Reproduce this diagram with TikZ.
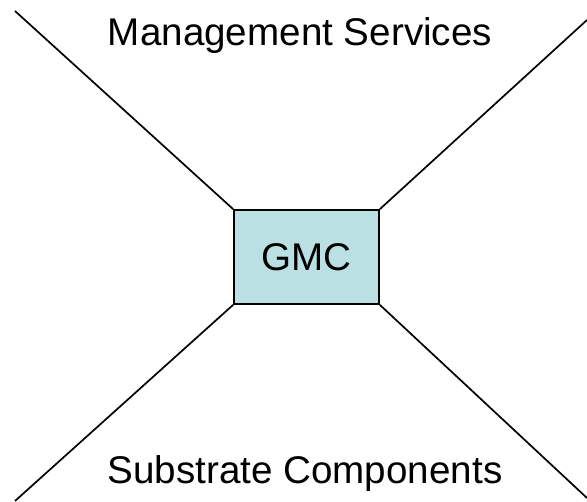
\documentclass[tikz,border=0pt]{standalone}
\usepackage{fontspec}
\setmainfont{Liberation Sans}
\definecolor{boxfill}{HTML}{BBE0E3}
\begin{document}
\begin{tikzpicture}[x=1pt,y=-1pt,
  conn/.style={draw=black,line width=1.7pt},
  gmcbox/.style={draw=black,line width=1.7pt,fill=boxfill,minimum width=145pt,minimum height=94pt,inner sep=0pt,font=\fontsize{38.6}{39}\selectfont},
  lbl/.style={inner sep=0pt,anchor=base,font=\fontsize{38.6}{39}\selectfont}]
\useasboundingbox (0,0) rectangle (587,502);
\node[gmcbox] (gmc) at (306.5,257) {GMC};
\coordinate (tl) at (15,11);
\coordinate (tr) at (587,20);
\coordinate (bl) at (15,501);
\coordinate (br) at (587,498);
\draw[conn] (tl) -- (gmc.north west);
\draw[conn] (tr) -- (gmc.north east);
\draw[conn] (bl) -- (gmc.south west);
\draw[conn] (br) -- (gmc.south east);
\node[lbl] (ms) at (300,46) {Management Services};
\node[lbl] (sc) at (305,484) {Substrate Components};
\end{tikzpicture}
\end{document}
